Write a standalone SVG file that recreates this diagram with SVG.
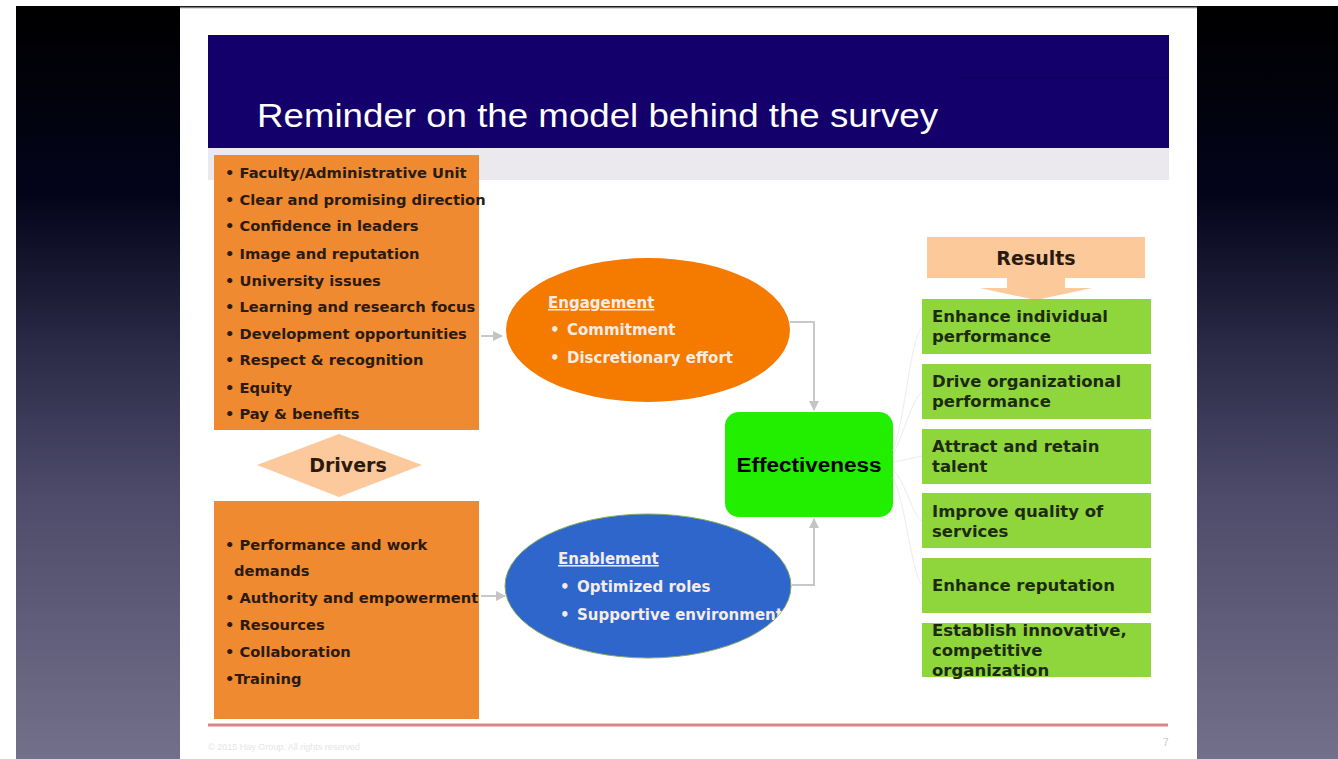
<svg xmlns="http://www.w3.org/2000/svg" width="1338" height="759" viewBox="0 0 1338 759">
<defs>
<linearGradient id="bg" x1="0" y1="0" x2="0" y2="1">
<stop offset="0" stop-color="#000000"/>
<stop offset="0.25" stop-color="#03041a"/>
<stop offset="0.45" stop-color="#2a2946"/>
<stop offset="0.65" stop-color="#4d4b69"/>
<stop offset="1" stop-color="#72708a"/>
</linearGradient>
<marker id="arr" viewBox="0 0 10 10" refX="9" refY="5" markerWidth="5" markerHeight="5" orient="auto">
<path d="M0,0 L10,5 L0,10 z" fill="#c4c4c4"/>
</marker>
<clipPath id="clipEn"><ellipse cx="648" cy="586" rx="143" ry="72"/></clipPath>
<style>
.item{font-family:"DejaVu Sans",Verdana,sans-serif;font-weight:bold;font-size:14.7px;fill:#2a1a10}
.res{font-family:"DejaVu Sans",Verdana,sans-serif;font-weight:bold;font-size:16.5px;fill:#1e2a10}
.ell{font-family:"DejaVu Sans",Verdana,sans-serif;font-weight:bold;font-size:15px;fill:#f6ece6}
.orange{fill:#f08a30}
.green{fill:#8fd63c}
.conn{fill:none;stroke:#c8c8c8;stroke-width:2}
</style>
</defs>
<rect width="1338" height="759" fill="#ffffff"/>
<rect x="16" y="6" width="1322" height="753" fill="url(#bg)"/>
<rect x="180" y="7" width="1017" height="752" fill="#ffffff"/>
<line x1="180" y1="7.5" x2="1197" y2="7.5" stroke="#7a7a7a" stroke-width="1.5"/>

<g id="header">
<rect x="208" y="35" width="961" height="113" fill="#13006a"/>
<line x1="960" y1="78" x2="1169" y2="78" stroke="#0a0050" stroke-width="1"/>
<rect x="208" y="148" width="961" height="32" fill="#ece9ee"/>
<text x="257" y="127" font-family="Liberation Sans,Arial,sans-serif" font-size="34" fill="#ffffff" textLength="681" lengthAdjust="spacingAndGlyphs">Reminder on the model behind the survey</text>
</g>

<g id="drivers-top">
<rect class="orange" x="214" y="155" width="265" height="275"/>
<text class="item" x="225" y="178">• Faculty/Administrative Unit</text>
<text class="item" x="225" y="205">• Clear and promising direction</text>
<text class="item" x="225" y="231">• Confidence in leaders</text>
<text class="item" x="225" y="259">• Image and reputation</text>
<text class="item" x="225" y="286">• University issues</text>
<text class="item" x="225" y="312">• Learning and research focus</text>
<text class="item" x="225" y="339">• Development opportunities</text>
<text class="item" x="225" y="365">• Respect &amp; recognition</text>
<text class="item" x="225" y="393">• Equity</text>
<text class="item" x="225" y="419">• Pay &amp; benefits</text>
</g>

<g id="drivers-label">
<polygon points="257,465 339,434 422,465 339,497" fill="#fbc99b"/>
<text x="348" y="472" text-anchor="middle" font-family="DejaVu Sans,Verdana,sans-serif" font-weight="bold" font-size="19" fill="#2a1a10">Drivers</text>
</g>

<g id="drivers-bottom">
<rect class="orange" x="214" y="501" width="265" height="218"/>
<text class="item" x="225" y="550">• Performance and work</text>
<text class="item" x="234" y="576">demands</text>
<text class="item" x="225" y="603">• Authority and empowerment</text>
<text class="item" x="225" y="630">• Resources</text>
<text class="item" x="225" y="657">• Collaboration</text>
<text class="item" x="225" y="684">•Training</text>
</g>

<g id="engagement">
<ellipse cx="648" cy="330" rx="142" ry="72" fill="#f47a00"/>
<text class="ell" x="548" y="308" text-decoration="underline">Engagement</text>
<text class="ell" x="550" y="335">•</text>
<text class="ell" x="567" y="335">Commitment</text>
<text class="ell" x="550" y="363">•</text>
<text class="ell" x="567" y="363">Discretionary effort</text>
</g>

<g id="enablement">
<ellipse cx="648" cy="586" rx="143" ry="72" fill="#2e66cc" stroke="#8aa860" stroke-width="1"/>
<g clip-path="url(#clipEn)">
<text class="ell" x="558" y="564" text-decoration="underline">Enablement</text>
<text class="ell" x="560" y="592">•</text>
<text class="ell" x="577" y="592">Optimized roles</text>
<text class="ell" x="560" y="620">•</text>
<text class="ell" x="577" y="620">Supportive environment</text>
</g>
</g>

<g id="effectiveness">
<rect x="725" y="412" width="168" height="105" rx="14" fill="#22ee00"/>
<text x="809" y="472" text-anchor="middle" font-family="Liberation Sans,Arial,sans-serif" font-weight="bold" font-size="20" fill="#000000" textLength="145" lengthAdjust="spacingAndGlyphs">Effectiveness</text>
</g>

<g id="results-label">
<path d="M927,237 H1145 V278 H1065 V288 H1092 L1036,300 L980,288 H1007 V278 H927 Z" fill="#fcc99b"/>
<text x="1036" y="265" text-anchor="middle" font-family="DejaVu Sans,Verdana,sans-serif" font-weight="bold" font-size="19" fill="#2a1a10">Results</text>
</g>

<g id="result-1">
<rect class="green" x="922" y="299" width="229" height="55"/>
<text class="res" x="932" y="322">Enhance individual</text>
<text class="res" x="932" y="342">performance</text>
</g>
<g id="result-2">
<rect class="green" x="922" y="364" width="229" height="55"/>
<text class="res" x="932" y="387">Drive organizational</text>
<text class="res" x="932" y="407">performance</text>
</g>
<g id="result-3">
<rect class="green" x="922" y="429" width="229" height="55"/>
<text class="res" x="932" y="452">Attract and retain</text>
<text class="res" x="932" y="472">talent</text>
</g>
<g id="result-4">
<rect class="green" x="922" y="493" width="229" height="55"/>
<text class="res" x="932" y="517">Improve quality of</text>
<text class="res" x="932" y="537">services</text>
</g>
<g id="result-5">
<rect class="green" x="922" y="558" width="229" height="55"/>
<text class="res" x="932" y="591">Enhance reputation</text>
</g>
<g id="result-6">
<rect class="green" x="922" y="623" width="229" height="54"/>
<text class="res" x="932" y="636">Establish innovative,</text>
<text class="res" x="932" y="656">competitive</text>
<text class="res" x="932" y="676">organization</text>
</g>

<g id="connectors">
<line class="conn" x1="481" y1="336" x2="502" y2="336" marker-end="url(#arr)"/>
<line class="conn" x1="481" y1="596" x2="505" y2="596" marker-end="url(#arr)"/>
<polyline class="conn" points="790,322 814,322 814,410" marker-end="url(#arr)"/>
<polyline class="conn" points="792,585 814,585 814,519" marker-end="url(#arr)"/>
<g fill="none" stroke="#ececec" stroke-width="1">
<path d="M893,450 C905,420 910,340 922,327"/>
<path d="M893,455 C905,430 912,400 922,392"/>
<path d="M893,462 C905,460 912,458 922,456"/>
<path d="M893,470 C905,480 912,515 922,521"/>
<path d="M893,478 C905,500 912,575 922,585"/>
</g>
</g>

<g id="footer">
<line x1="208" y1="725" x2="1168" y2="725" stroke="#d9868a" stroke-width="3"/>
<text x="208" y="750" font-family="Liberation Sans,Arial,sans-serif" font-size="9" fill="#e8e2e8">© 2015 Hay Group. All rights reserved</text>
<text x="1163" y="746" font-family="Liberation Sans,Arial,sans-serif" font-size="10" fill="#c8c8c8">7</text>
</g>
</svg>
